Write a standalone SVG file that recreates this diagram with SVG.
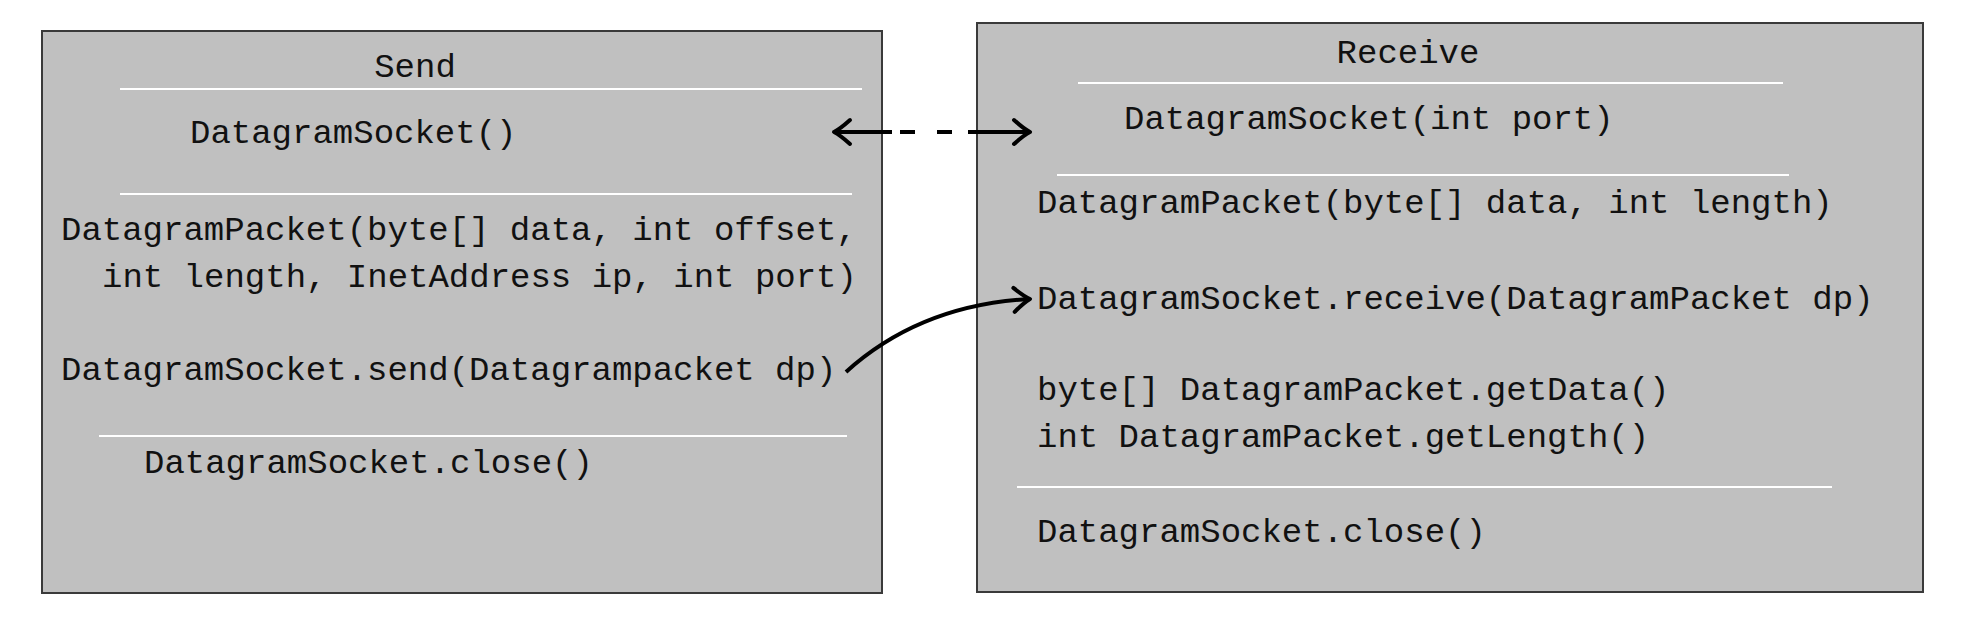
<svg xmlns="http://www.w3.org/2000/svg" width="1984" height="620" viewBox="0 0 1984 620">
<style>
.box{fill:#c0c0c0;stroke:#3a3a3a;stroke-width:2}
.sep{stroke:#ffffff;stroke-width:2}
.t{font-family:"Liberation Mono","DejaVu Sans Mono",monospace;font-size:34px;fill:#111}
.title{text-anchor:middle}
.conn{fill:none;stroke:#000;stroke-width:4}
</style>
<defs>
<marker id="chev" markerUnits="userSpaceOnUse" markerWidth="40" markerHeight="40" refX="0" refY="0" viewBox="-20 -20 40 40" orient="auto-start-reverse" overflow="visible">
<path d="M -16 -12 Q -6 -3 0 0 Q -6 3 -16 12" fill="none" stroke="#000" stroke-width="4" stroke-linecap="round" stroke-linejoin="round"/>
</marker>
</defs>
<rect width="1984" height="620" fill="#ffffff"/>
<g id="send">
<rect class="box" x="42" y="31" width="840" height="562"/>
<text class="t title" x="415" y="77">Send</text>
<line class="sep" x1="120" y1="89" x2="862" y2="89"/>
<text class="t" x="190" y="143">DatagramSocket()</text>
<line class="sep" x1="120" y1="194" x2="852" y2="194"/>
<text class="t" x="61" y="240">DatagramPacket(byte[] data, int offset,</text>
<text class="t" x="102" y="287">int length, InetAddress ip, int port)</text>
<text class="t" x="61" y="380">DatagramSocket.send(Datagrampacket dp)</text>
<line class="sep" x1="99" y1="436" x2="847" y2="436"/>
<text class="t" x="144" y="473">DatagramSocket.close()</text>
</g>
<g id="receive">
<rect class="box" x="977" y="23" width="946" height="569"/>
<text class="t title" x="1408" y="63">Receive</text>
<line class="sep" x1="1078" y1="83" x2="1783" y2="83"/>
<text class="t" x="1124" y="129">DatagramSocket(int port)</text>
<line class="sep" x1="1057" y1="175" x2="1789" y2="175"/>
<text class="t" x="1037" y="213">DatagramPacket(byte[] data, int length)</text>
<text class="t" x="1037" y="309">DatagramSocket.receive(DatagramPacket dp)</text>
<text class="t" x="1037" y="400">byte[] DatagramPacket.getData()</text>
<text class="t" x="1037" y="447">int DatagramPacket.getLength()</text>
<line class="sep" x1="1017" y1="487" x2="1832" y2="487"/>
<text class="t" x="1037" y="542">DatagramSocket.close()</text>
</g>
<g id="connectors">
<path class="conn" d="M 834 132 L 1030 132" stroke-dasharray="58 8 15 22 15 16 80" marker-start="url(#chev)" marker-end="url(#chev)"/>
<path class="conn" d="M 846 372 Q 920 305 1030 299" marker-end="url(#chev)"/>
</g>
</svg>
